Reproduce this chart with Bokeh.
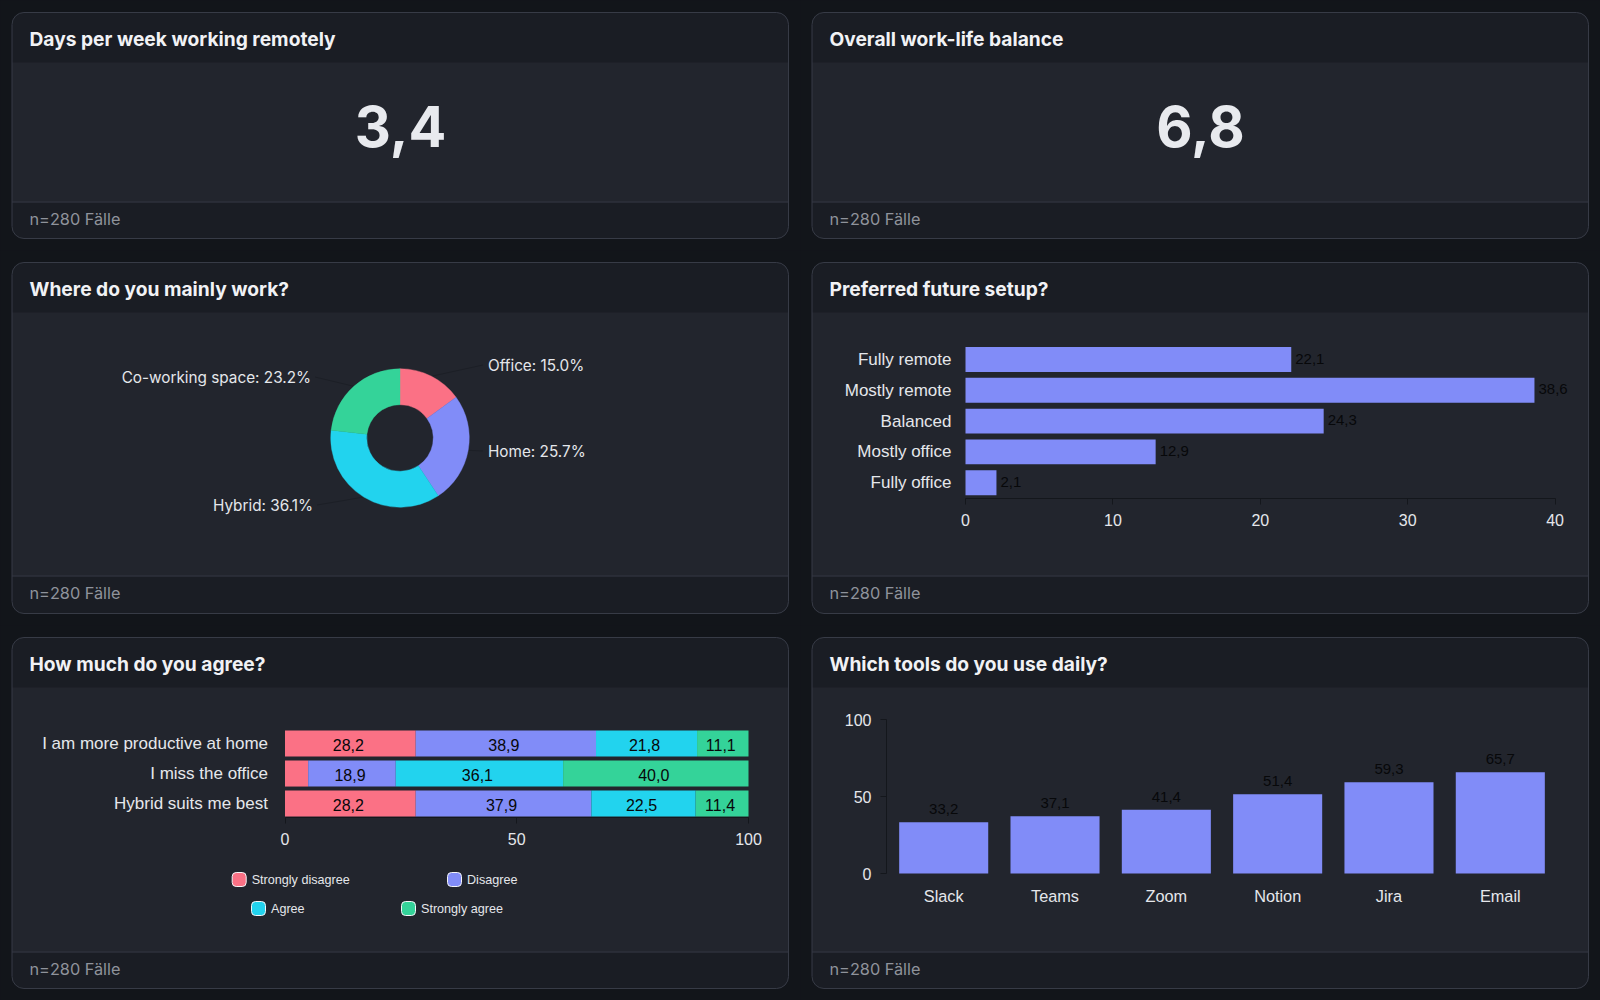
from bokeh.core.properties import value
from bokeh.embed import file_html
from bokeh.resources import INLINE
from bokeh.layouts import column, row
from bokeh.models import (BoxAnnotation, ColumnDataSource, FixedTicker,
                          Label, LabelSet, Range1d)
from bokeh.plotting import figure
import math

# ---- data -------------------------------------------------------------
KPI_TITLES = ["Days per week working remotely", "Overall work-life balance"]
KPI_VALUES = ["3,4", "6,8"]
FOOTER = "n=280 Fälle"

WHERE_TITLE = "Where do you mainly work?"
WHERE_NAMES = ["Office", "Home", "Hybrid", "Co-working space"]
WHERE_VALUES = [15.0, 25.7, 36.1, 23.2]

SETUP_TITLE = "Preferred future setup?"
SETUP_NAMES = ["Fully remote", "Mostly remote", "Balanced", "Mostly office", "Fully office"]
SETUP_VALUES = [22.1, 38.6, 24.3, 12.9, 2.1]
SETUP_TICKS = [0, 10, 20, 30, 40]

AGREE_TITLE = "How much do you agree?"
AGREE_ROWS = ["I am more productive at home", "I miss the office", "Hybrid suits me best"]
AGREE_LEVELS = ["Strongly disagree", "Disagree", "Agree", "Strongly agree"]
STRONGLY_DISAGREE = [28.2, 5.0, 28.2]
DISAGREE = [38.9, 18.9, 37.9]
AGREE = [21.8, 36.1, 22.5]
STRONGLY_AGREE = [11.1, 40.0, 11.4]
AGREE_TICKS = [0, 50, 100]

TOOLS_TITLE = "Which tools do you use daily?"
TOOLS_NAMES = ["Slack", "Teams", "Zoom", "Notion", "Jira", "Email"]
TOOLS_VALUES = [33.2, 37.1, 41.4, 51.4, 59.3, 65.7]
TOOLS_TICKS = [0, 50, 100]

# ---- style -------------------------------------------------------------
PAGE = "#12151a"
BODY = "#22252d"
BAND = "#1a1d24"
EDGE = "#373b46"
AXIS = "#14171c"
TEXT = "#e5e7eb"
MUTED = "#8f939b"
INK = "#07080a"
PALETTE = ["#fb7185", "#818cf8", "#22d3ee", "#34d399"]
BAR = "#818cf8"
UI = "Inter"
SANS = "Liberation Sans"

W = 800
CARD_L, CARD_R = 11.5, 788


def comma(v):
    return f"{v:.1f}".replace(".", ",")


def xrange_px(a_px, a_val, b_px, b_val):
    k = (b_val - a_val) / (b_px - a_px)
    return Range1d(a_val - a_px * k, a_val + (W - a_px) * k)


def yrange_px(a_px, a_val, b_px, b_val, h):
    k = (b_val - a_val) / (b_px - a_px)
    return Range1d(a_val + (h - a_px) * k, a_val - a_px * k)


def cbox(p, l, r, t, b, fill, radius=0, line=None, fill_alpha=1.0, level="underlay"):
    p.add_layout(BoxAnnotation(left=l, right=r, top=t, bottom=b,
                               left_units="canvas", right_units="canvas",
                               top_units="canvas", bottom_units="canvas",
                               fill_color=fill, fill_alpha=fill_alpha,
                               line_color=line, line_alpha=1.0 if line else 0.0, line_width=1,
                               border_radius=radius, level=level))


def ctext(p, x, y, text, size, color, family=UI, style="normal", align="left"):
    p.add_layout(Label(x=x, y=y, x_units="canvas", y_units="canvas", text=text,
                       text_font=family, text_font_size=size, text_color=color,
                       text_font_style=style, text_align=align, text_baseline="middle"))


def card(h, card_bottom, foot, title, x_range, y_range, axes=True):
    """One figure per card: its frame covers the whole canvas, axes sit at fixed locations."""
    kw = {} if axes else dict(x_axis_type=None, y_axis_type=None)
    p = figure(width=W, height=h, output_backend="svg", toolbar_location=None, min_border=0,
               border_fill_color=PAGE, background_fill_color=PAGE, outline_line_color=None,
               x_range=x_range, y_range=y_range, **kw)
    p.grid.visible = False
    cbox(p, CARD_L, CARD_R, 12, card_bottom, BODY, 12)
    cbox(p, CARD_L, CARD_R, 12, 62, BAND, (12, 12, 0, 0))
    cbox(p, CARD_L, CARD_R, foot, card_bottom, BAND, (0, 0, 12, 12))
    cbox(p, CARD_L, CARD_R, foot, foot + 1, EDGE)
    cbox(p, CARD_L, CARD_R, 12, card_bottom, BODY, 12, line=EDGE, fill_alpha=0.0)
    ctext(p, 29, 38, title, "19.2px", "#f1f2f5", style="bold")
    ctext(p, 29, foot + 17.3, FOOTER, "16.3px", MUTED)
    return p


def style_axis(ax, size, ticks, line=True, standoff=8, overrides=None, bounds=None, at=None):
    ax.ticker = FixedTicker(ticks=ticks)
    ax.major_label_text_font = SANS
    ax.major_label_text_font_size = size
    ax.major_label_text_color = TEXT
    ax.minor_tick_line_color = None
    ax.axis_line_color = AXIS if line else None
    ax.major_tick_line_color = AXIS if line else None
    ax.major_tick_in, ax.major_tick_out = 0, 6 if line else 0
    ax.major_label_standoff = standoff
    if overrides:
        ax.major_label_overrides = overrides
    if bounds:
        ax.bounds = bounds
    ax.fixed_location = at


def kpi(title, val):
    p = card(250, 238, 201, title, Range1d(0, 1), Range1d(0, 1), axes=False)
    ctext(p, 400, 126, val, "56px", "#e8eaee", style="bold", align="center")
    return p


def donut():
    p = card(375, 363, 325, WHERE_TITLE, Range1d(-399.5, 400.5), Range1d(-187.5, 187.5), axes=False)
    total = sum(WHERE_VALUES)
    starts, ends, acc = [], [], 0.0
    for v in WHERE_VALUES:
        starts.append(math.pi / 2 - 2 * math.pi * (acc + v) / total)
        ends.append(math.pi / 2 - 2 * math.pi * acc / total)
        acc += v
    src = ColumnDataSource(dict(start=starts, end=ends, color=PALETTE[:4]))
    # layout of the label anchors, relative to the centre of the ring
    anchors = [(83, 73), (83, -13), (-83, -67), (-85, 61)]
    aligns = ["left", "left", "right", "right"]
    xs, ys = [], []
    for s, e, (ax, ay) in zip(starts, ends, anchors):
        m = (s + e) / 2
        xs.append([69.3 * math.cos(m), ax])
        ys.append([69.3 * math.sin(m), ay])
    p.multi_line(xs, ys, line_color="#1c1f26", line_width=1)
    p.annular_wedge(x=0, y=0, inner_radius=33.3, outer_radius=69.3, start_angle="start",
                    end_angle="end", direction="anticlock", fill_color="color",
                    line_color="color", line_width=0.4, source=src)
    for name, v, (ax, ay), al in zip(WHERE_NAMES, WHERE_VALUES, anchors, aligns):
        p.add_layout(Label(x=ax + (5 if al == "left" else -4), y=ay, text=f"{name}: {v:.1f}%",
                           text_font=UI, text_font_size="15.3px", text_color=TEXT,
                           text_align=al, text_baseline="middle"))
    return p


def setup():
    p = card(375, 363, 325, SETUP_TITLE, xrange_px(165, 0, 754.6, 40),
             yrange_px(109, 0, 232.2, 4, 375))
    idx = list(range(len(SETUP_NAMES)))
    src = ColumnDataSource(dict(y=idx, v=SETUP_VALUES, t=[comma(v) for v in SETUP_VALUES]))
    p.hbar(y="y", right="v", height=0.81, left=0, fill_color=BAR, line_color=None, source=src)
    p.add_layout(LabelSet(x="v", y="y", text="t", source=src, x_offset=4, y_offset=1,
                          text_font=value(SANS),
                          text_font_size="15px", text_color=INK, text_baseline="middle"))
    style_axis(p.xaxis[0], "16px", SETUP_TICKS, standoff=9, at=(248.3 - 109) / 30.8, bounds=(0, 40))
    style_axis(p.yaxis[0], "17px", idx, line=False, standoff=14, at=0,
               overrides=dict(zip(idx, SETUP_NAMES)))
    return p


def agree():
    series = [STRONGLY_DISAGREE, DISAGREE, AGREE, STRONGLY_AGREE]
    p = card(375, 363, 326, AGREE_TITLE, xrange_px(284.5, 0, 748, 100),
             yrange_px(118, 0, 178, 2, 375))
    idx = list(range(len(AGREE_ROWS)))
    data = dict(y=idx)
    for name, vals in zip(AGREE_LEVELS, series):
        data[name] = vals
    p.hbar_stack(AGREE_LEVELS, y="y", height=0.87, color=PALETTE, line_color=None,
                 source=ColumnDataSource(data))
    lx, ly, lt = [], [], []
    for i in idx:
        acc = 0.0
        for vals in series:
            if vals[i] >= 10:
                lx.append(acc + vals[i] / 2)
                ly.append(i)
                lt.append(comma(vals[i]))
            acc += vals[i]
    p.add_layout(LabelSet(x="x", y="y", text="t", source=ColumnDataSource(dict(x=lx, y=ly, t=lt)),
                          x_offset=-2, y_offset=-1,
                          text_font=value(SANS), text_font_size="16px", text_color=INK,
                          text_align="center", text_baseline="middle"))
    style_axis(p.xaxis[0], "16px", AGREE_TICKS, standoff=9, at=(192 - 118) / 30, bounds=(0, 100))
    style_axis(p.yaxis[0], "17px", idx, line=False, standoff=17, at=0,
               overrides=dict(zip(idx, AGREE_ROWS)))
    # legend, two centred rows
    slots = [(231.7, 254), (447, 254), (251, 283), (401, 283)]
    for (sx, sy), name, col in zip(slots, AGREE_LEVELS, PALETTE):
        cbox(p, sx, sx + 14, sy - 7, sy + 7, col, 4, line="#f4f5f7", level="annotation")
        ctext(p, sx + 19.5, sy, name, "12.6px", TEXT, family=SANS)
    return p


def tools():
    p = card(375, 363, 326, TOOLS_TITLE, xrange_px(143.2, 0, 699.8, 5),
             yrange_px(248, 0, 94, 100, 375))
    idx = list(range(len(TOOLS_NAMES)))
    src = ColumnDataSource(dict(x=idx, v=TOOLS_VALUES, t=[comma(v) for v in TOOLS_VALUES]))
    p.vbar(x="x", top="v", width=0.8, bottom=0, fill_color=BAR, line_color=None, source=src)
    p.add_layout(LabelSet(x="x", y="v", text="t", source=src, y_offset=8, text_font=value(SANS),
                          text_font_size="15px", text_color=INK, text_align="center",
                          text_baseline="bottom"))
    style_axis(p.xaxis[0], "16.3px", idx, line=False, standoff=13, at=0,
               overrides=dict(zip(idx, TOOLS_NAMES)))
    style_axis(p.yaxis[0], "16px", TOOLS_TICKS, standoff=9, at=(86 - 143.2) / 111.32, bounds=(0, 100))
    return p


page = column(
    row(kpi(KPI_TITLES[0], KPI_VALUES[0]), kpi(KPI_TITLES[1], KPI_VALUES[1]), spacing=0),
    row(donut(), setup(), spacing=0),
    row(agree(), tools(), spacing=0),
    spacing=0,
)

html = file_html(page, INLINE)
html = html.replace("<head>", f"<head><style>html,body{{background:{PAGE};overflow:hidden;}}</style>", 1)
open("out.html", "w").write(html)
